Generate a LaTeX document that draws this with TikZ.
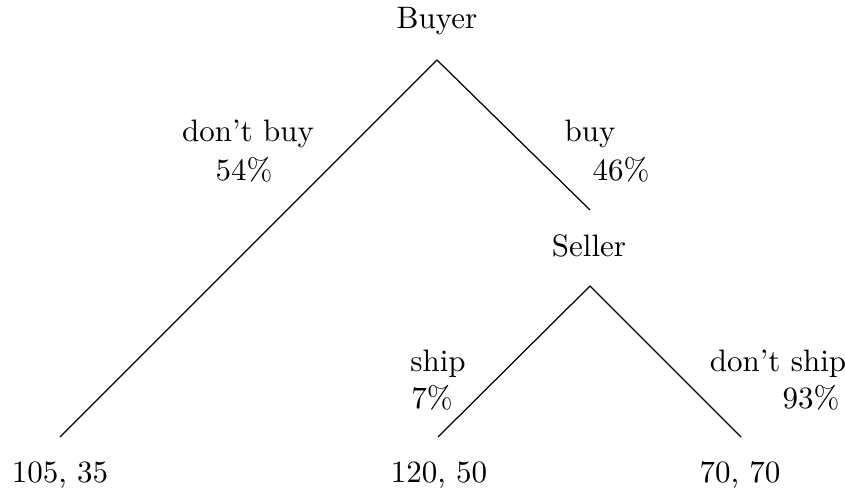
\documentclass[tikz,border=0pt]{standalone}
\usepackage{amsmath, amssymb}
\usepackage{tikz}
\usetikzlibrary{positioning}
\usepackage{xcolor}

\begin{document}
\begin{tikzpicture}[x=0.3226pt, y=-0.3226pt]
            \useasboundingbox (0,0) rectangle (845,490);

            \coordinate (R) at (437,60);
            \node[anchor=base] (buyer) at (437,29) {Buyer};

            \coordinate (S0) at (590,210);
            \coordinate (S) at (590,286);
            \node[anchor=base] (seller) at (589,257) {Seller};

            \coordinate (L1) at (60,437);
            \node[anchor=base] (pay1) at (60,483) {105, 35};

            \coordinate (L2) at (438,437);
            \node[anchor=base] (pay2) at (439,483) {120, 50};

            \coordinate (L3) at (741,437);
            \node[anchor=base] (pay3) at (740,483) {70, 70};

            \node[anchor=base] (nobuy) at (248,142) {don't buy};
            \node[anchor=base] (nobuyp) at (244,181) {54\%};
            \node[anchor=base] (buy) at (590,142) {buy};
            \node[anchor=base] (buyp) at (621,181) {46\%};

            \node[anchor=base] (ship) at (438,372) {ship};
            \node[anchor=base] (shipp) at (432,409) {7\%};
            \node[anchor=base] (noship) at (778,372) {don't ship};
            \node[anchor=base] (noshipp) at (811,409) {93\%};

            \draw (R) -- (L1);
            \draw (R) -- (S0);
            \draw (S) -- (L2);
            \draw (S) -- (L3);
        \end{tikzpicture}
\end{document}
